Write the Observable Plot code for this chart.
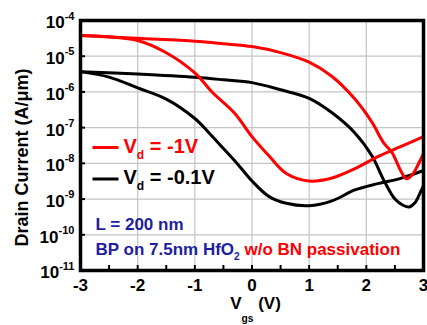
<!DOCTYPE html>
<html><head><meta charset="utf-8">
<script src="https://cdn.jsdelivr.net/npm/d3@7"></script>
<script src="https://cdn.jsdelivr.net/npm/@observablehq/plot@0.6"></script>
<style>body{margin:0;background:#fff}</style>
</head><body><div id="chart"></div>
<script>
// ---- data ----
const xTicks = [-3, -2, -1, 0, 1, 2, 3];
const xMinorTicks = [-2.5, -2, -1.5, -1, -0.5, 0, 0.5, 1, 1.5, 2, 2.5];
const yTicks = [1e-11, 1e-10, 1e-9, 1e-8, 1e-7, 1e-6, 1e-5, 1e-4];
const yGrid = [1e-10, 1e-9, 1e-8, 1e-7, 1e-6, 1e-5];

// Vd = -1V, sweep turning off near -1 V
const vgsRedA = [-3, -2.5, -2, -1.5, -1, -0.7, -0.3, 0, 0.3, 0.6, 1.0, 1.4, 1.8, 2.2, 2.6, 3.0];
const idRedA  = [3.8e-5, 3.5e-5, 2.75e-5, 1.25e-5, 3.4e-6, 1.0e-6, 2.5e-7, 5.6e-8, 1.6e-8, 5.2e-9, 3.2e-9, 3.9e-9, 7.1e-9, 1.55e-8, 2.95e-8, 5.6e-8];
// Vd = -1V, sweep turning off near 2 V
const vgsRedB = [-3, -2, -1, -0.5, 0, 0.5, 1.0, 1.4, 1.8, 2.1, 2.3, 2.45, 2.6, 2.7, 2.8, 2.9, 3.0];
const idRedB  = [3.8e-5, 3.16e-5, 2.63e-5, 2.24e-5, 1.86e-5, 1.26e-5, 6.8e-6, 2.7e-6, 6.3e-7, 1.4e-7, 3.8e-8, 2.0e-8, 6.3e-9, 3.7e-9, 4.7e-9, 8.9e-9, 1.86e-8];
// Vd = -0.1V, sweep turning off near -1 V
const vgsBlackA = [-3, -2.5, -2, -1.5, -1, -0.75, -0.5, -0.25, 0, 0.3, 0.6, 1.0, 1.4, 1.8, 2.2, 2.6, 3.0];
const idBlackA  = [3.7e-6, 2.6e-6, 1.3e-6, 6.3e-7, 1.8e-7, 7.1e-8, 2.6e-8, 9.5e-9, 3.2e-9, 1.17e-9, 7.6e-10, 6.5e-10, 8.9e-10, 1.8e-9, 2.7e-9, 3.8e-9, 6.3e-9];
// Vd = -0.1V, sweep turning off near 2 V
const vgsBlackB = [-3, -2, -1, -0.5, 0, 0.5, 1.0, 1.4, 1.8, 2.1, 2.3, 2.5, 2.65, 2.75, 2.85, 2.95, 3.0];
const idBlackB  = [3.7e-6, 3.16e-6, 2.57e-6, 2.19e-6, 1.82e-6, 1.15e-6, 6.6e-7, 2.6e-7, 7.1e-8, 1.6e-8, 3.5e-9, 1.0e-9, 6.6e-10, 6.0e-10, 7.9e-10, 1.6e-9, 2.4e-9];

const legendLabels = ["V_{d} = -1V", "V_{d} = -0.1V"];
const noteLabels = ["L = 200 nm", "BP on 7.5nm HfO_{2} [[w/o BN passivation]]"];
const xTitle = "V__{gs} (V)";
const yTitle = "Drain Current (A/\u03bcm)";

const pts = (xs, ys) => xs.map((x, i) => ({x, y: ys[i]}));
const RED = "#ff0000", BLUE = "#1e1ea0";

const swatch = {draw(ctx) { ctx.moveTo(-13, 0); ctx.lineTo(13, 0); }};
const note = (label, o) => Plot.text([label], {frameAnchor: "top-left", text: d => d, textAnchor: "start", lineAnchor: "middle", ...o});

const chart = Plot.plot({
  width: 427, height: 325,
  marginLeft: 80, marginTop: 20, marginRight: 4, marginBottom: 55,
  style: {fontFamily: "'Liberation Sans', Arial, sans-serif", fontWeight: "bold", background: "white", color: "black"},
  x: {domain: [-3, 3]},
  y: {type: "log", domain: [1e-11, 1e-4]},
  marks: [
    Plot.gridX({ticks: [-2, -1, 0, 1, 2], stroke: "#c4c4c4", strokeOpacity: 1, strokeWidth: 1.2}),
    Plot.gridY({ticks: yGrid, stroke: "#c4c4c4", strokeOpacity: 1, strokeWidth: 1.2}),
    Plot.tickX(xMinorTicks, {x: d => d, insetTop: 245, stroke: "black", strokeWidth: 2}),
    Plot.tickY(yTicks, {y: d => d, insetRight: 338, stroke: "black", strokeWidth: 2}),
    Plot.line(pts(vgsBlackA, idBlackA), {x: "x", y: "y", stroke: "black", strokeWidth: 3, curve: "catmull-rom"}),
    Plot.line(pts(vgsBlackB, idBlackB), {x: "x", y: "y", stroke: "black", strokeWidth: 3, curve: "catmull-rom"}),
    Plot.line(pts(vgsRedA, idRedA), {x: "x", y: "y", stroke: RED, strokeWidth: 3, curve: "catmull-rom"}),
    Plot.line(pts(vgsRedB, idRedB), {x: "x", y: "y", stroke: RED, strokeWidth: 3, curve: "catmull-rom"}),
    Plot.axisX({ticks: xTicks, tickSize: 0, tickPadding: 8, tickFormat: d => String(d), fontSize: 17, fontWeight: "bold", label: null}),
    Plot.axisY({ticks: yTicks, tickSize: 0, tickPadding: 6, dy: 2.5, tickFormat: d => `10^{${Math.round(Math.log10(d))}}`, fontSize: 17, fontWeight: "bold", label: null}),
    // legend
    Plot.dot([0], {frameAnchor: "top-left", dx: 25, dy: 127, symbol: swatch, stroke: RED, strokeWidth: 3, fill: "none"}),
    Plot.dot([0], {frameAnchor: "top-left", dx: 25, dy: 158.5, symbol: swatch, stroke: "black", strokeWidth: 3, fill: "none"}),
    note(legendLabels[0], {dx: 43, dy: 125.6, fontSize: 20, fill: RED}),
    note(legendLabels[1], {dx: 43, dy: 156.6, fontSize: 20, fill: "black"}),
    note(noteLabels[0], {dx: 15, dy: 203.6, fontSize: 17, fill: BLUE}),
    note(noteLabels[1], {dx: 15, dy: 228.6, fontSize: 17, fill: BLUE}),
    // axis titles
    Plot.text([xTitle], {frameAnchor: "bottom", dx: 3.5, dy: 32.6, text: d => d, textAnchor: "middle", lineAnchor: "middle", fontSize: 17, fill: "black"}),
    Plot.text([yTitle], {frameAnchor: "top-left", dx: -58, dy: 137, rotate: -90, text: d => d, textAnchor: "middle", lineAnchor: "middle", fontSize: 18, fill: "black"}),
    Plot.frame({stroke: "black", strokeWidth: 3.5})
  ]
});
document.getElementById("chart").append(chart);

// rich text: _{sub}, __{deep sub}, ^{sup}, [[red]]
d3.select(chart).selectAll("text").each(function() {
  const el = this;
  if (el.querySelector("tspan")) return;
  const s = el.textContent;
  if (!/(_\{|\^\{|\[\[)/.test(s)) return;
  const fs = parseFloat(getComputedStyle(el).fontSize) || 17;
  el.textContent = "";
  let offset = 0, color = null;
  const parts = s.split(/(__\{[^}]*\}|_\{[^}]*\}|\^\{[^}]*\}|\[\[|\]\])/).filter(p => p !== "");
  for (const p of parts) {
    if (p === "[[") { color = RED; continue; }
    if (p === "]]") { color = null; continue; }
    let target = 0, size = null, txt = p;
    if (p.startsWith("__{")) { target = fs * 0.78; size = fs * 0.6; txt = p.slice(3, -1); }
    else if (p.startsWith("_{")) { target = fs * 0.32; size = fs * 0.6; txt = p.slice(2, -1); }
    else if (p.startsWith("^{")) { target = -fs * 0.52; size = fs * 0.65; txt = p.slice(2, -1); }
    const t = d3.select(el).append("tspan").text(txt);
    if (target !== offset) { t.attr("dy", target - offset); offset = target; }
    if (size) t.attr("font-size", size);
    if (color) t.attr("fill", color);
  }
});
</script></body></html>
